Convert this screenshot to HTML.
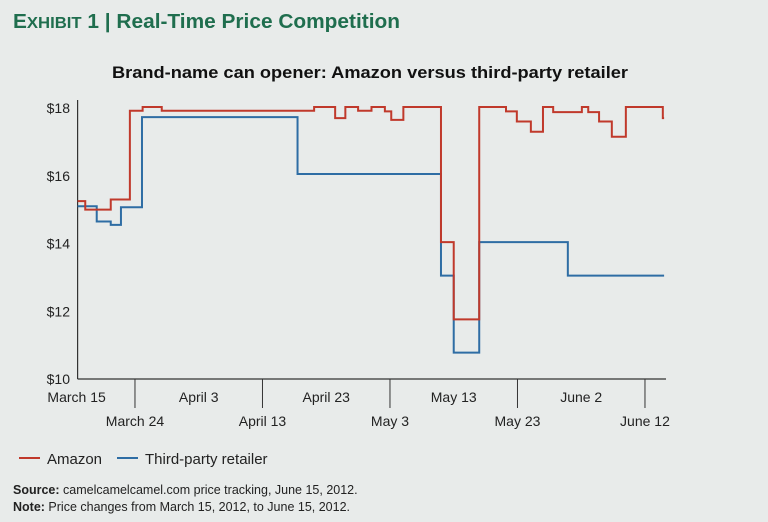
<!DOCTYPE html>
<html><head><meta charset="utf-8">
<style>
html,body{margin:0;padding:0;}
body{width:768px;height:522px;background:#e8ebea;overflow:hidden;font-family:"Liberation Sans",sans-serif;}
svg{display:block;}
</style></head>
<body>
<svg id="chart" width="768" height="522" viewBox="0 0 768 522" xmlns="http://www.w3.org/2000/svg">
  <rect x="0" y="0" width="768" height="522" fill="#e8ebea"/>
  <text x="13" y="28" fill="#1f6e4e" font-weight="bold" textLength="387" lengthAdjust="spacingAndGlyphs"><tspan font-size="20">E</tspan><tspan font-size="16">XHIBIT</tspan><tspan font-size="20"> 1 | Real-Time Price Competition</tspan></text>
  <text x="370" y="78" text-anchor="middle" fill="#111" font-size="16.5" font-weight="bold" textLength="516" lengthAdjust="spacingAndGlyphs">Brand-name can opener: Amazon versus third-party retailer</text>
  <g id="axes"></g>
  <g id="series"></g>
  <g>
    <line x1="19" y1="458" x2="40" y2="458" stroke="#c0392b" stroke-width="2"/>
    <text x="47" y="464" font-size="15" fill="#222">Amazon</text>
    <line x1="117" y1="458" x2="138" y2="458" stroke="#2e6da4" stroke-width="2"/>
    <text x="145" y="464" font-size="15" fill="#222">Third-party retailer</text>
  </g>
  <text x="13" y="494" font-size="12.5" fill="#222"><tspan font-weight="bold">Source:</tspan> camelcamelcamel.com price tracking, June 15, 2012.</text>
  <text x="13" y="511" font-size="12.5" fill="#222"><tspan font-weight="bold">Note:</tspan> Price changes from March 15, 2012, to June 15, 2012.</text>
</svg>
<script>
// Days since March 15, 2012
const amazonDays   = [0, 1.2, 5.2, 8.2, 10.2, 13.2, 37.1, 40.4, 42, 44, 46.1, 48.2, 49.2, 51.1, 57, 59, 63, 67.2, 68.9, 71.1, 73, 74.6, 79.1, 80.1, 81.8, 83.8, 86, 91.8, 92];
const amazonPrices = [15.25, 15.0, 15.3, 17.92, 18.03, 17.92, 18.03, 17.7, 18.03, 17.92, 18.03, 17.9, 17.65, 18.03, 14.04, 11.76, 18.03, 17.9, 17.6, 17.3, 18.03, 17.88, 18.03, 17.88, 17.6, 17.15, 18.03, 17.7, 17.7];
const thirdDays    = [0, 3, 5.2, 6.8, 10.1, 34.5, 57, 59, 63, 76.9, 92];
const thirdPrices  = [15.1, 14.65, 14.55, 15.07, 17.73, 16.05, 13.05, 10.78, 14.04, 13.05, 13.05];
const yTicks = [10, 12, 14, 16, 18];
const yTickLabels = ["$10", "$12", "$14", "$16", "$18"];
const xTickDays = [0, 9, 19, 29, 39, 49, 59, 69, 79, 89];
const xTickLabels = ["March 15", "March 24", "April 3", "April 13", "April 23", "May 3", "May 13", "May 23", "June 2", "June 12"];

const NS = "http://www.w3.org/2000/svg";
const X0 = 77.6, DAYPX = 6.375, Y10 = 379, Y18 = 108;
function xs(d){ return X0 + d * DAYPX; }
function ys(p){ return Y10 - (p - 10) * (Y10 - Y18) / 8; }
function mk(tag, attrs, parent){ const e = document.createElementNS(NS, tag); for (const k in attrs) e.setAttribute(k, attrs[k]); parent.appendChild(e); return e; }

const axes = document.getElementById('axes');
const yAxis = mk('line', {x1: X0, y1: 100, x2: X0, y2: Y10, stroke: '#333', 'stroke-width': 1.2}, axes);


const xAxis = mk('line', {x1: X0, y1: Y10, x2: xs(92.3), y2: Y10, stroke: '#333', 'stroke-width': 1.2}, axes);



yTicks.forEach((v, i) => {
  const t = mk('text', {x: 70, y: ys(v) + 5, 'text-anchor': 'end', 'font-size': 14, fill: '#222'}, axes);
  t.textContent = yTickLabels[i];
  
  
});

xTickDays.forEach((d, i) => {
  const x = xs(d);
  const lower = i % 2 === 1;
  if (lower) {
    const tk = mk('line', {x1: x, y1: Y10, x2: x, y2: 408, stroke: '#333', 'stroke-width': 1}, axes);
    
    
  }
  const t = mk('text', {x: i === 0 ? x - 1 : x, y: lower ? 426 : 402, 'text-anchor': 'middle', 'font-size': 14, fill: '#222'}, axes);
  t.textContent = xTickLabels[i];
  
  
});

function stepPath(days, prices){
  let d = 'M' + xs(days[0]) + ' ' + ys(prices[0]);
  for (let i = 1; i < days.length; i++){
    d += ' H' + xs(days[i]) + ' V' + ys(prices[i]);
  }
  return d;
}
const series = document.getElementById('series');
const blue = mk('path', {d: stepPath(thirdDays, thirdPrices), fill: 'none', stroke: '#2e6da4', 'stroke-width': 2}, series);


const red = mk('path', {d: stepPath(amazonDays, amazonPrices), fill: 'none', stroke: '#c0392b', 'stroke-width': 2}, series);


</script>
</body></html>
